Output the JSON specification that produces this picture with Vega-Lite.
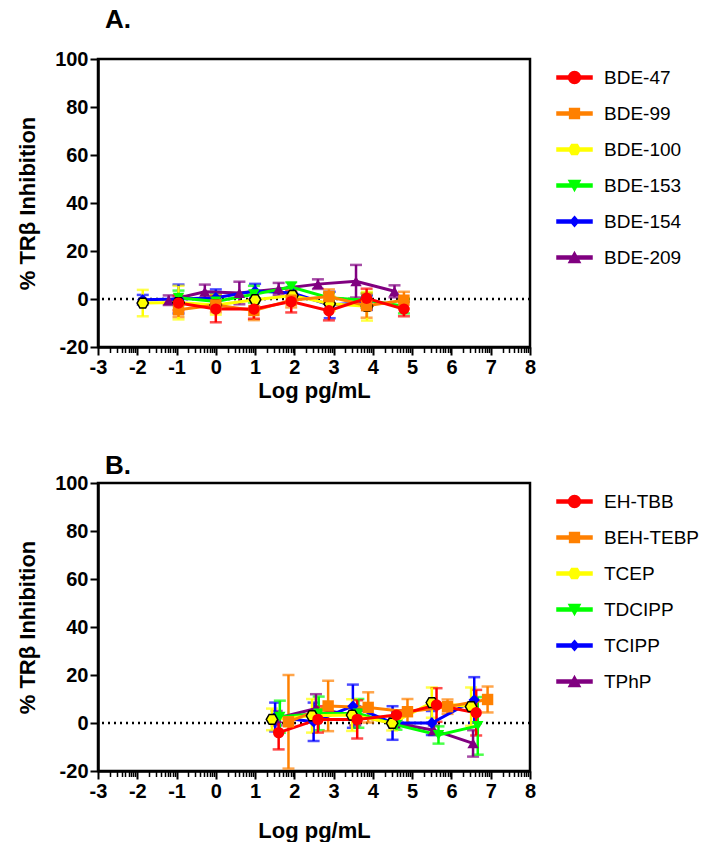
{
  "$schema": "https://vega.github.io/schema/vega-lite/v6.json",
  "background": "white",
  "padding": {"left": 15, "top": 5, "right": 5, "bottom": 2},
  "spacing": 48,
  "resolve": {"scale": {"color": "independent", "shape": "independent"}, "legend": {"color": "independent", "shape": "independent"}},
  "config": {
    "font": "Liberation Sans",
    "view": {"stroke": "black", "strokeWidth": 2.5},
    "axis": {
      "domainColor": "black", "domainWidth": 2.5, "tickColor": "black", "tickWidth": 2,
      "labelColor": "black", "labelFont": "Liberation Sans", "labelFontSize": 20, "labelFontWeight": "bold",
      "titleFont": "Liberation Sans", "titleFontSize": 22, "titleFontWeight": "bold", "titleColor": "black",
      "grid": false, "labelPadding": 2
    },
    "axisY": {"tickSize": 8, "titlePadding": 15},
    "axisX": {"titlePadding": 3},
    "legend": {
      "labelFont": "Liberation Sans", "labelFontSize": 19, "labelColor": "black",
      "symbolSize": 1225, "symbolOpacity": 1, "rowPadding": 7, "labelOffset": 11, "offset": 26, "padding": 0
    },
    "title": {"font": "Liberation Sans", "fontSize": 26, "fontWeight": "bold", "color": "black", "anchor": "start", "frame": "group"}
  },
  "datasets": {
    "a": [
      {"s": "BDE-209", "x": -1.2, "y": -0.5, "sd": 2},
      {"s": "BDE-209", "x": -0.28, "y": 3.0, "sd": 3},
      {"s": "BDE-209", "x": 0.6, "y": 2.5, "sd": 4.7},
      {"s": "BDE-209", "x": 1.6, "y": 4.2, "sd": 2.5},
      {"s": "BDE-209", "x": 2.6, "y": 6.2, "sd": 2},
      {"s": "BDE-209", "x": 3.57, "y": 7.4, "sd": 6.8},
      {"s": "BDE-209", "x": 4.55, "y": 3.2, "sd": 2.5},
      {"s": "BDE-154", "x": -1.86, "y": -0.3, "sd": 2},
      {"s": "BDE-154", "x": -0.95, "y": 0, "sd": 6},
      {"s": "BDE-154", "x": 0, "y": 0.5, "sd": 3.5},
      {"s": "BDE-154", "x": 1.0, "y": 3.3, "sd": 3},
      {"s": "BDE-154", "x": 1.95, "y": 2.5, "sd": 2.5},
      {"s": "BDE-154", "x": 2.9, "y": -2.5, "sd": 5.5},
      {"s": "BDE-154", "x": 3.85, "y": -1.5, "sd": 3},
      {"s": "BDE-153", "x": -0.95, "y": 0.5, "sd": 3},
      {"s": "BDE-153", "x": 0, "y": -1, "sd": 3},
      {"s": "BDE-153", "x": 0.97, "y": 2, "sd": 3.5},
      {"s": "BDE-153", "x": 1.92, "y": 5, "sd": 2},
      {"s": "BDE-153", "x": 2.88, "y": 0.5, "sd": 2},
      {"s": "BDE-153", "x": 3.84, "y": -0.5, "sd": 3},
      {"s": "BDE-153", "x": 4.79, "y": -3, "sd": 3},
      {"s": "BDE-100", "x": -1.86, "y": -1.7, "sd": 5.5},
      {"s": "BDE-100", "x": -0.95, "y": -1.5, "sd": 7},
      {"s": "BDE-100", "x": 0, "y": -2.5, "sd": 4},
      {"s": "BDE-100", "x": 1.0, "y": -0.3, "sd": 3},
      {"s": "BDE-100", "x": 1.95, "y": 1.5, "sd": 3},
      {"s": "BDE-100", "x": 2.9, "y": -2, "sd": 3},
      {"s": "BDE-100", "x": 3.85, "y": -3, "sd": 6},
      {"s": "BDE-99", "x": -0.95, "y": -4.5, "sd": 3},
      {"s": "BDE-99", "x": 0, "y": -2.5, "sd": 3},
      {"s": "BDE-99", "x": 0.97, "y": -4.8, "sd": 4},
      {"s": "BDE-99", "x": 1.92, "y": -0.5, "sd": 3},
      {"s": "BDE-99", "x": 2.88, "y": 1, "sd": 3},
      {"s": "BDE-99", "x": 3.84, "y": -2.8, "sd": 5},
      {"s": "BDE-99", "x": 4.79, "y": -0.5, "sd": 3.5},
      {"s": "BDE-47", "x": -0.95, "y": -1.7, "sd": 3},
      {"s": "BDE-47", "x": 0, "y": -4.2, "sd": 5.5},
      {"s": "BDE-47", "x": 0.97, "y": -4.2, "sd": 4},
      {"s": "BDE-47", "x": 1.92, "y": -1.1, "sd": 4.5},
      {"s": "BDE-47", "x": 2.88, "y": -4.9, "sd": 4},
      {"s": "BDE-47", "x": 3.84, "y": 0.3, "sd": 4},
      {"s": "BDE-47", "x": 4.79, "y": -4.2, "sd": 3}
    ],
    "b": [
      {"s": "TPhP", "x": 1.55, "y": 2, "sd": 3},
      {"s": "TPhP", "x": 2.55, "y": 6, "sd": 6},
      {"s": "TPhP", "x": 3.55, "y": 3, "sd": 4},
      {"s": "TPhP", "x": 4.55, "y": 0, "sd": 2},
      {"s": "TPhP", "x": 5.55, "y": -3, "sd": 2},
      {"s": "TPhP", "x": 6.55, "y": -8.5, "sd": 5.5},
      {"s": "TCIPP", "x": 1.51, "y": 2.5, "sd": 6},
      {"s": "TCIPP", "x": 2.49, "y": 0.5, "sd": 8},
      {"s": "TCIPP", "x": 3.49, "y": 7, "sd": 9},
      {"s": "TCIPP", "x": 4.5, "y": 0, "sd": 7},
      {"s": "TCIPP", "x": 5.5, "y": 0, "sd": 5},
      {"s": "TCIPP", "x": 6.58, "y": 9.6, "sd": 9.5},
      {"s": "TDCIPP", "x": 1.63, "y": 2.6, "sd": 6.7},
      {"s": "TDCIPP", "x": 2.62, "y": 4, "sd": 7},
      {"s": "TDCIPP", "x": 3.63, "y": 4, "sd": 6},
      {"s": "TDCIPP", "x": 4.6, "y": -0.8, "sd": 2},
      {"s": "TDCIPP", "x": 5.67, "y": -5, "sd": 3.6},
      {"s": "TDCIPP", "x": 6.67, "y": -1.2, "sd": 12},
      {"s": "TCEP", "x": 1.43, "y": 1.5, "sd": 4.5},
      {"s": "TCEP", "x": 2.45, "y": 3, "sd": 7},
      {"s": "TCEP", "x": 3.47, "y": 3.3, "sd": 6.6},
      {"s": "TCEP", "x": 4.49, "y": -0.1, "sd": 3},
      {"s": "TCEP", "x": 5.5, "y": 8.5, "sd": 6.3},
      {"s": "TCEP", "x": 6.5, "y": 6.8, "sd": 8},
      {"s": "BEH-TEBP", "x": 1.85, "y": 0.5, "sd": 19.5},
      {"s": "BEH-TEBP", "x": 2.86, "y": 7.1, "sd": 10.5},
      {"s": "BEH-TEBP", "x": 3.88, "y": 6.5, "sd": 6.3},
      {"s": "BEH-TEBP", "x": 4.88, "y": 4.7, "sd": 5.3},
      {"s": "BEH-TEBP", "x": 5.9, "y": 6.8, "sd": 3},
      {"s": "BEH-TEBP", "x": 6.92, "y": 9.8, "sd": 5.4},
      {"s": "EH-TBB", "x": 1.6, "y": -4, "sd": 7},
      {"s": "EH-TBB", "x": 2.6, "y": 1.5, "sd": 5.5},
      {"s": "EH-TBB", "x": 3.6, "y": 1.5, "sd": 8},
      {"s": "EH-TBB", "x": 4.6, "y": 3.3, "sd": 2},
      {"s": "EH-TBB", "x": 5.62, "y": 7.5, "sd": 7},
      {"s": "EH-TBB", "x": 6.63, "y": 4.3, "sd": 9.5}
    ]
  },
  "vconcat": [
    {
      "title": {"text": "A.", "dx": 7, "offset": 16},
      "width": 432,
      "height": 288,
      "layer": [
        {
          "data": {"values": [{}]},
          "mark": {"type": "rule", "strokeDash": [2, 4], "strokeWidth": 2.5, "color": "black"},
          "encoding": {
            "y": {"datum": 0, "type": "quantitative", "title": "% TRβ Inhibition", "scale": {"domain": [-20, 100], "nice": false, "zero": false}}
          }
        },
        {
          "data": {"name": "a"},
          "mark": {"type": "point", "filled": true, "opacity": 0},
          "encoding": {
            "x": {"field": "x", "type": "quantitative", "title": "Log pg/mL", "scale": {"domain": [-3, 8], "nice": false, "zero": false},
              "axis": {"values": [-3,-2.699,-2.523,-2.398,-2.301,-2.222,-2.155,-2.097,-2.046,-2,-1.699,-1.523,-1.398,-1.301,-1.222,-1.155,-1.097,-1.046,-1,-0.699,-0.523,-0.398,-0.301,-0.222,-0.155,-0.097,-0.046,0,0.301,0.477,0.602,0.699,0.778,0.845,0.903,0.954,1,1.301,1.477,1.602,1.699,1.778,1.845,1.903,1.954,2,2.301,2.477,2.602,2.699,2.778,2.845,2.903,2.954,3,3.301,3.477,3.602,3.699,3.778,3.845,3.903,3.954,4,4.301,4.477,4.602,4.699,4.778,4.845,4.903,4.954,5,5.301,5.477,5.602,5.699,5.778,5.845,5.903,5.954,6,6.301,6.477,6.602,6.699,6.778,6.845,6.903,6.954,7,7.301,7.477,7.602,7.699,7.778,7.845,7.903,7.954,8],
                "tickCount": 500,
                "labelExpr": "abs(datum.value - round(datum.value)) < 0.01 ? toString(round(datum.value)) : ''",
                "labelOverlap": false, "labelFlush": false, "labelBound": false,
                "tickSize": {"condition": {"test": "abs(datum.value - round(datum.value)) < 0.01", "value": 8}, "value": 5.5},
                "tickWidth": {"condition": {"test": "abs(datum.value - round(datum.value)) < 0.01", "value": 2}, "value": 1.5}}},
            "y": {"field": "y", "type": "quantitative", "title": "% TRβ Inhibition", "scale": {"domain": [-20, 100], "nice": false, "zero": false},
              "axis": {"values": [-20, 0, 20, 40, 60, 80, 100], "labelExpr": "toString(datum.value)", "labelOverlap": false, "labelFlush": false}},
            "color": {"field": "s", "type": "nominal", "legend": {"title": null},
              "scale": {"domain": ["BDE-47", "BDE-99", "BDE-100", "BDE-153", "BDE-154", "BDE-209"], "range": ["#ff0000", "#ff8000", "#ffff00", "#00ff00", "#0000ff", "#800080"]}},
            "shape": {"field": "s", "type": "nominal", "legend": {"title": null},
              "scale": {"domain": ["BDE-47", "BDE-99", "BDE-100", "BDE-153", "BDE-154", "BDE-209"],
                "range": [
                  "M-1,-0.09H1V0.09H-1Z M0.34,0A0.34,0.34,0,1,1,-0.34,0A0.34,0.34,0,1,1,0.34,0Z",
                  "M-1,-0.09H1V0.09H-1Z M-0.28,-0.28H0.28V0.28H-0.28Z",
                  "M-1,-0.09H1V0.09H-1Z M-0.33,0L-0.165,-0.29H0.165L0.33,0L0.165,0.29H-0.165Z",
                  "M-1,-0.09H1V0.09H-1Z M-0.32,-0.28H0.32L0,0.3Z",
                  "M-1,-0.09H1V0.09H-1Z M0,-0.28L0.24,0L0,0.28L-0.24,0Z",
                  "M-1,-0.09H1V0.09H-1Z M0,-0.3L0.32,0.28H-0.32Z"
                ]}}
          }
        },
        {
          "data": {"name": "a"},
          "mark": {"type": "errorbar", "ticks": true, "thickness": 2.5, "size": 12},
          "encoding": {
            "x": {"field": "x", "type": "quantitative", "title": "Log pg/mL", "scale": {"domain": [-3, 8], "nice": false, "zero": false}},
            "y": {"field": "y", "type": "quantitative", "title": "% TRβ Inhibition", "scale": {"domain": [-20, 100], "nice": false, "zero": false}},
            "yError": {"field": "sd"},
            "color": {"field": "s", "type": "nominal"}
          }
        },
        {
          "data": {"name": "a"},
          "mark": {"type": "line", "strokeWidth": 3},
          "encoding": {
            "x": {"field": "x", "type": "quantitative", "title": "Log pg/mL", "scale": {"domain": [-3, 8], "nice": false, "zero": false}},
            "y": {"field": "y", "type": "quantitative", "title": "% TRβ Inhibition", "scale": {"domain": [-20, 100], "nice": false, "zero": false}},
            "color": {"field": "s", "type": "nominal"}
          }
        },
        {
          "data": {"name": "a"},
          "mark": {"type": "point", "filled": true, "opacity": 1, "size": 130, "stroke": "black"},
          "encoding": {
            "x": {"field": "x", "type": "quantitative", "title": "Log pg/mL", "scale": {"domain": [-3, 8], "nice": false, "zero": false}},
            "y": {"field": "y", "type": "quantitative", "title": "% TRβ Inhibition", "scale": {"domain": [-20, 100], "nice": false, "zero": false}},
            "color": {"field": "s", "type": "nominal"},
            "shape": {"condition": [
              {"test": "datum.s === 'BDE-47'", "value": "circle"},
              {"test": "datum.s === 'BDE-99'", "value": "square"},
              {"test": "datum.s === 'BDE-100'", "value": "M-1,0L-0.5,-0.866L0.5,-0.866L1,0L0.5,0.866L-0.5,0.866Z"},
              {"test": "datum.s === 'BDE-153'", "value": "triangle-down"},
              {"test": "datum.s === 'BDE-154'", "value": "diamond"}
            ], "value": "triangle-up"},
            "strokeWidth": {"condition": {"test": "datum.s === 'BDE-100'", "value": 1.5}, "value": 0}
          }
        }
      ]
    },
    {
      "title": {"text": "B.", "dx": 7, "offset": -6},
      "width": 432,
      "height": 288,
      "layer": [
        {
          "data": {"values": [{}]},
          "mark": {"type": "rule", "strokeDash": [2, 4], "strokeWidth": 2.5, "color": "black"},
          "encoding": {
            "y": {"datum": 0, "type": "quantitative", "title": "% TRβ Inhibition", "scale": {"domain": [-20, 100], "nice": false, "zero": false}}
          }
        },
        {
          "data": {"name": "b"},
          "mark": {"type": "point", "filled": true, "opacity": 0},
          "encoding": {
            "x": {"field": "x", "type": "quantitative", "title": "Log pg/mL", "scale": {"domain": [-3, 8], "nice": false, "zero": false},
              "axis": {"values": [-3,-2.699,-2.523,-2.398,-2.301,-2.222,-2.155,-2.097,-2.046,-2,-1.699,-1.523,-1.398,-1.301,-1.222,-1.155,-1.097,-1.046,-1,-0.699,-0.523,-0.398,-0.301,-0.222,-0.155,-0.097,-0.046,0,0.301,0.477,0.602,0.699,0.778,0.845,0.903,0.954,1,1.301,1.477,1.602,1.699,1.778,1.845,1.903,1.954,2,2.301,2.477,2.602,2.699,2.778,2.845,2.903,2.954,3,3.301,3.477,3.602,3.699,3.778,3.845,3.903,3.954,4,4.301,4.477,4.602,4.699,4.778,4.845,4.903,4.954,5,5.301,5.477,5.602,5.699,5.778,5.845,5.903,5.954,6,6.301,6.477,6.602,6.699,6.778,6.845,6.903,6.954,7,7.301,7.477,7.602,7.699,7.778,7.845,7.903,7.954,8],
                "tickCount": 500,
                "labelExpr": "abs(datum.value - round(datum.value)) < 0.01 ? toString(round(datum.value)) : ''",
                "labelOverlap": false, "labelFlush": false, "labelBound": false, "titlePadding": 19,
                "tickSize": {"condition": {"test": "abs(datum.value - round(datum.value)) < 0.01", "value": 8}, "value": 5.5},
                "tickWidth": {"condition": {"test": "abs(datum.value - round(datum.value)) < 0.01", "value": 2}, "value": 1.5}}},
            "y": {"field": "y", "type": "quantitative", "title": "% TRβ Inhibition", "scale": {"domain": [-20, 100], "nice": false, "zero": false},
              "axis": {"values": [-20, 0, 20, 40, 60, 80, 100], "labelExpr": "toString(datum.value)", "labelOverlap": false, "labelFlush": false}},
            "color": {"field": "s", "type": "nominal", "legend": {"title": null},
              "scale": {"domain": ["EH-TBB", "BEH-TEBP", "TCEP", "TDCIPP", "TCIPP", "TPhP"], "range": ["#ff0000", "#ff8000", "#ffff00", "#00ff00", "#0000ff", "#800080"]}},
            "shape": {"field": "s", "type": "nominal", "legend": {"title": null},
              "scale": {"domain": ["EH-TBB", "BEH-TEBP", "TCEP", "TDCIPP", "TCIPP", "TPhP"],
                "range": [
                  "M-1,-0.09H1V0.09H-1Z M0.34,0A0.34,0.34,0,1,1,-0.34,0A0.34,0.34,0,1,1,0.34,0Z",
                  "M-1,-0.09H1V0.09H-1Z M-0.28,-0.28H0.28V0.28H-0.28Z",
                  "M-1,-0.09H1V0.09H-1Z M-0.33,0L-0.165,-0.29H0.165L0.33,0L0.165,0.29H-0.165Z",
                  "M-1,-0.09H1V0.09H-1Z M-0.32,-0.28H0.32L0,0.3Z",
                  "M-1,-0.09H1V0.09H-1Z M0,-0.28L0.24,0L0,0.28L-0.24,0Z",
                  "M-1,-0.09H1V0.09H-1Z M0,-0.3L0.32,0.28H-0.32Z"
                ]}}
          }
        },
        {
          "data": {"name": "b"},
          "mark": {"type": "errorbar", "ticks": true, "thickness": 2.5, "size": 12},
          "encoding": {
            "x": {"field": "x", "type": "quantitative", "title": "Log pg/mL", "scale": {"domain": [-3, 8], "nice": false, "zero": false}},
            "y": {"field": "y", "type": "quantitative", "title": "% TRβ Inhibition", "scale": {"domain": [-20, 100], "nice": false, "zero": false}},
            "yError": {"field": "sd"},
            "color": {"field": "s", "type": "nominal"}
          }
        },
        {
          "data": {"name": "b"},
          "mark": {"type": "line", "strokeWidth": 3},
          "encoding": {
            "x": {"field": "x", "type": "quantitative", "title": "Log pg/mL", "scale": {"domain": [-3, 8], "nice": false, "zero": false}},
            "y": {"field": "y", "type": "quantitative", "title": "% TRβ Inhibition", "scale": {"domain": [-20, 100], "nice": false, "zero": false}},
            "color": {"field": "s", "type": "nominal"}
          }
        },
        {
          "data": {"name": "b"},
          "mark": {"type": "point", "filled": true, "opacity": 1, "size": 130, "stroke": "black"},
          "encoding": {
            "x": {"field": "x", "type": "quantitative", "title": "Log pg/mL", "scale": {"domain": [-3, 8], "nice": false, "zero": false}},
            "y": {"field": "y", "type": "quantitative", "title": "% TRβ Inhibition", "scale": {"domain": [-20, 100], "nice": false, "zero": false}},
            "color": {"field": "s", "type": "nominal"},
            "shape": {"condition": [
              {"test": "datum.s === 'EH-TBB'", "value": "circle"},
              {"test": "datum.s === 'BEH-TEBP'", "value": "square"},
              {"test": "datum.s === 'TCEP'", "value": "M-1,0L-0.5,-0.866L0.5,-0.866L1,0L0.5,0.866L-0.5,0.866Z"},
              {"test": "datum.s === 'TDCIPP'", "value": "triangle-down"},
              {"test": "datum.s === 'TCIPP'", "value": "diamond"}
            ], "value": "triangle-up"},
            "strokeWidth": {"condition": {"test": "datum.s === 'TCEP'", "value": 1.5}, "value": 0}
          }
        }
      ]
    }
  ]
}
